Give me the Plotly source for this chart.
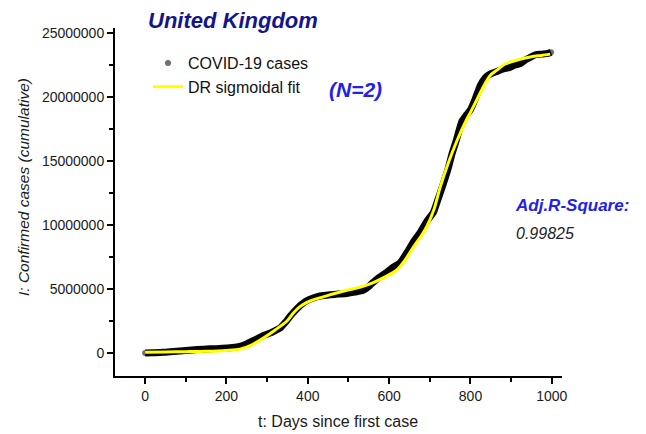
import plotly.graph_objects as go

# Cumulative confirmed COVID-19 cases, United Kingdom (days since first case)
days = [0, 20, 44, 70, 100, 128, 160, 190, 209, 230, 245, 258, 275, 290, 307,
        320, 332, 345, 356, 370, 381, 395, 413, 430, 455, 475, 496, 515, 536,
        550, 560, 575, 594, 610, 627, 645, 660, 676, 693, 709, 718, 733, 745,
        755, 765, 772, 779, 790, 800, 811, 824, 836, 849, 865, 881, 895, 910,
        922, 935, 947, 960, 975, 990, 998]
cases = [0.0, 0.02, 0.05, 0.12, 0.2, 0.27, 0.32, 0.36, 0.4, 0.5, 0.65, 0.85,
         1.1, 1.35, 1.55, 1.75, 1.95, 2.4, 2.85, 3.35, 3.7, 4.05, 4.3, 4.45,
         4.55, 4.6, 4.65, 4.75, 4.9, 5.2, 5.5, 5.9, 6.3, 6.7, 7.05, 7.9, 8.7,
         9.4, 10.3, 11.0, 11.8, 13.2, 14.4, 15.6, 16.6, 17.4, 18.1, 18.6, 19.0,
         19.8, 20.9, 21.5, 21.8, 22.0, 22.2, 22.3, 22.5, 22.6, 22.9, 23.1, 23.3,
         23.35, 23.4, 23.5]  # millions

# Double sigmoidal (DR, N=2) fitted curve
fit_days = [0, 50, 100, 150, 200, 233, 260, 290, 320, 349, 364, 380, 398, 413,
            450, 496, 530, 561, 590, 619, 640, 660, 680, 693, 710, 725, 745,
            767, 790, 800, 819, 835, 849, 865, 881, 900, 922, 950, 975, 996]
fit_cases = [0.05, 0.08, 0.1, 0.13, 0.2, 0.3, 0.6, 1.15, 1.8, 2.5, 3.1, 3.6,
             3.95, 4.15, 4.5, 4.9, 5.15, 5.5, 5.95, 6.5, 7.3, 8.3, 9.2, 9.9,
             11.2, 12.9, 14.8, 16.6, 18.2, 18.8, 20.0, 21.0, 21.7, 22.1, 22.5,
             22.75, 22.95, 23.15, 23.25, 23.35]  # millions

y_ticks = [0, 5000000, 10000000, 15000000, 20000000, 25000000]
x_ticks = [0, 200, 400, 600, 800, 1000]

cases_abs = [v * 1e6 for v in cases]
fit_abs = [v * 1e6 for v in fit_cases]

FONT = "Liberation Sans, Arial, sans-serif"

fig = go.Figure()

# observed cases: scatter points under a thick dark band
fig.add_trace(go.Scatter(
    x=days, y=cases_abs, mode="markers", name="COVID-19 cases",
    marker=dict(color="#6e6e6e", size=6),
))
fig.add_trace(go.Scatter(
    x=days, y=cases_abs, mode="lines", showlegend=False, hoverinfo="skip",
    line=dict(color="#050505", width=7, shape="spline", smoothing=0.6),
))
# fitted curve
fig.add_trace(go.Scatter(
    x=fit_days, y=fit_abs, mode="lines", name="DR sigmoidal fit",
    line=dict(color="#ffff00", width=3, shape="spline", smoothing=0.8),
))

fig.update_layout(
    width=646, height=434,
    margin=dict(l=115, r=84, t=28, b=58),
    paper_bgcolor="white", plot_bgcolor="white",
    font=dict(family=FONT, color="#1a1a1a"),
    showlegend=True,
    legend=dict(
        x=(148 - 115) / 447, y=1 + (28 - 46) / 348, xanchor="left", yanchor="top",
        bgcolor="rgba(0,0,0,0)", font=dict(size=16, family=FONT, color="#111"),
        itemwidth=30, tracegroupgap=0,
    ),
    xaxis=dict(
        range=[-74, 1025], tickvals=x_ticks, ticks="outside", ticklen=6,
        tickwidth=1.5, tickcolor="black", showline=True, linecolor="black",
        linewidth=2, showgrid=False, zeroline=False,
        tickfont=dict(size=14, family=FONT, color="#1a1a1a"),
        minor=dict(ticks="outside", dtick=100, tick0=0, ticklen=4,
                   tickwidth=1.5, tickcolor="black", showgrid=False),
    ),
    yaxis=dict(
        range=[-1.8e6, 25.39e6], tickvals=y_ticks, tickformat="d",
        ticks="outside", ticklen=6, tickwidth=1.5, tickcolor="black",
        showline=True, linecolor="black", linewidth=2, showgrid=False,
        zeroline=False, tickfont=dict(size=14, family=FONT, color="#1a1a1a"),
        minor=dict(ticks="outside", dtick=2500000, tick0=0, ticklen=4,
                   tickwidth=1.5, tickcolor="black", showgrid=False),
    ),
    annotations=[
        dict(text="<b><i>United Kingdom</i></b>", xref="paper", yref="paper",
             x=(146 - 115) / 447, y=1 + (28 - 20) / 348, xanchor="left",
             yanchor="middle", showarrow=False,
             font=dict(size=22, family=FONT, color="#15158a")),
        dict(text="<b><i>(N=2)</i></b>", xref="paper", yref="paper",
             x=(327 - 115) / 447, y=1 - (89 - 28) / 348, xanchor="left",
             yanchor="middle", showarrow=False,
             font=dict(size=21, family=FONT, color="#2222e6")),
        dict(text="<b><i>Adj.R-Square:</i></b>", xref="paper", yref="paper",
             x=(513 - 115) / 447, y=1 - (205 - 28) / 348, xanchor="left",
             yanchor="middle", showarrow=False,
             font=dict(size=17, family=FONT, color="#2222e6")),
        dict(text="<i>0.99825</i>", xref="paper", yref="paper",
             x=(514 - 115) / 447, y=1 - (233 - 28) / 348, xanchor="left",
             yanchor="middle", showarrow=False,
             font=dict(size=16, family=FONT, color="#222222")),
        dict(text="t: Days since first case", xref="paper", yref="paper",
             x=(338 - 115) / 447, y=-(421 - 376) / 348, xanchor="center",
             yanchor="middle", showarrow=False,
             font=dict(size=16, family=FONT, color="#1a1a1a")),
        dict(text="<i>I: Confirmed cases (cumulative)</i>", xref="paper",
             yref="paper", x=-(115 - 23) / 447, y=1 - (187 - 28) / 348,
             xanchor="center", yanchor="middle", textangle=-90,
             showarrow=False,
             font=dict(size=15.5, family=FONT, color="#1a1a1a")),
    ],
)

fig.write_html("out.html")
